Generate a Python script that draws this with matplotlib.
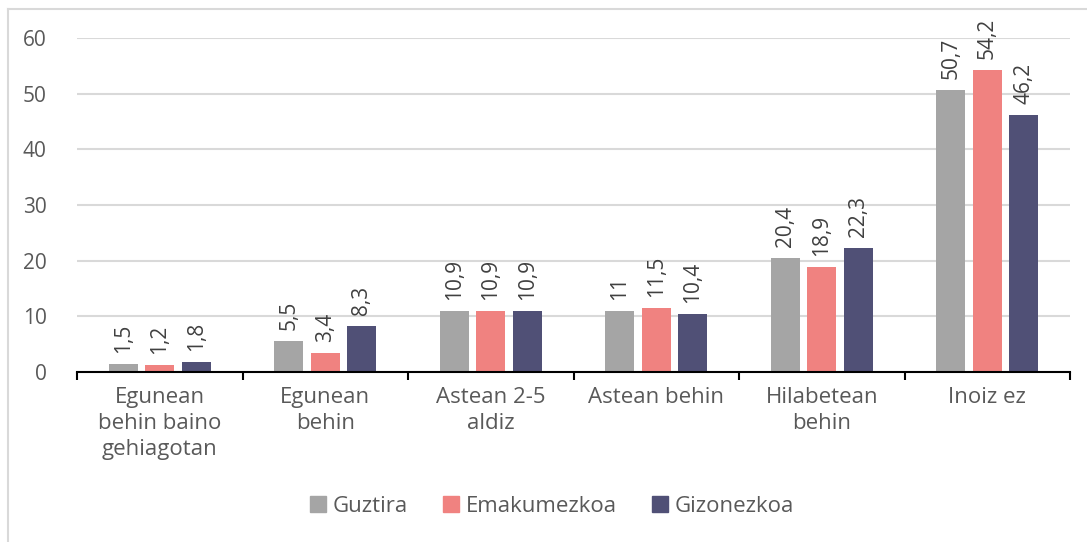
import numpy as np
import matplotlib.pyplot as plt
from matplotlib.lines import Line2D

plt.rcParams['font.family'] = ['Open Sans', 'DejaVu Sans']

categories = ['Egunean\nbehin baino\ngehiagotan', 'Egunean\nbehin', 'Astean 2-5\naldiz',
              'Astean behin', 'Hilabetean\nbehin', 'Inoiz ez']
series_names = ['Guztira', 'Emakumezkoa', 'Gizonezkoa']
guztira = [1.5, 5.5, 10.9, 11, 20.4, 50.7]
emakumezkoa = [1.2, 3.4, 10.9, 11.5, 18.9, 54.2]
gizonezkoa = [1.8, 8.3, 10.9, 10.4, 22.3, 46.2]
colors = ['#A5A5A5', '#F08280', '#505076']
yticks = [0, 10, 20, 30, 40, 50, 60]

text_color = '#595959'

fig = plt.figure(figsize=(10.87, 5.42), dpi=100)
ax = fig.add_axes([77 / 1087, 170 / 542, 993 / 1087, 334 / 542])

x = np.arange(len(categories))
width = 0.175
step = 0.22
for i, (vals, name, c) in enumerate(zip([guztira, emakumezkoa, gizonezkoa], series_names, colors)):
    pos = x + (i - 1) * step
    bars = ax.bar(pos, vals, width, color=c, label=name, zorder=3)
    for b, v in zip(bars, vals):
        ax.annotate(f'{v:g}'.replace('.', ','), (b.get_x() + b.get_width() / 2, v),
                    xytext=(0, 8), textcoords='offset points', rotation=90,
                    ha='center', va='bottom', fontsize=15, color='#404040',
                    annotation_clip=False)

ax.set_xlim(-0.5, len(categories) - 0.5)
ax.set_ylim(0, 60)
ax.set_yticks(yticks)
ax.set_yticklabels([str(t) for t in yticks], fontsize=15, color=text_color)
ax.tick_params(axis='y', length=0, pad=22)
ax.yaxis.grid(True, color='#D9D9D9', linewidth=1.5, zorder=0)

# category labels centred, ticks at the group boundaries
ax.set_xticks(x)
ax.set_xticklabels(categories, fontsize=16, color=text_color, linespacing=1.3)
ax.set_xticks(np.arange(len(categories) + 1) - 0.5, minor=True)
ax.tick_params(axis='x', which='major', length=0, pad=11)
ax.tick_params(axis='x', which='minor', length=6, width=1.5, color='black')

for s in ['top', 'right', 'left']:
    ax.spines[s].set_visible(False)
ax.spines['bottom'].set_linewidth(1.5)
ax.spines['bottom'].set_color('black')
ax.spines['bottom'].set_zorder(4)

handles = [plt.Rectangle((0, 0), 1, 1, color=c) for c in colors]
fig.legend(handles, series_names, loc='center', bbox_to_anchor=(552 / 1087, 1 - 506 / 542),
           ncol=3, frameon=False, fontsize=16, handlelength=0.7, handleheight=0.7,
           handletextpad=0.3, columnspacing=1.6, labelcolor=text_color)

# light frame around the chart
fig.add_artist(Line2D([8 / 1087, 8 / 1087], [0, 1 - 9 / 542], transform=fig.transFigure,
                      color='#D9D9D9', linewidth=1.5))
fig.add_artist(Line2D([8 / 1087, 1], [1 - 9 / 542, 1 - 9 / 542], transform=fig.transFigure,
                      color='#D9D9D9', linewidth=1.5))

fig.savefig('out.png', dpi=100)
